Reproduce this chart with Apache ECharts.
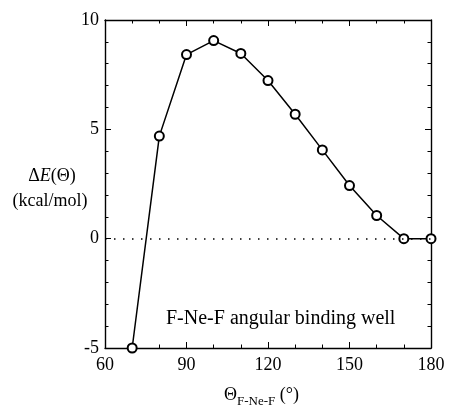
<!DOCTYPE html>
<html><head><meta charset="utf-8">
<script src="https://cdn.jsdelivr.net/npm/echarts@6/dist/echarts.min.js"></script>
<style>html,body{margin:0;padding:0;background:#fff}#c{width:449px;height:407px}</style>
</head><body><div id="c"></div>
<script>
var angles = [70, 80, 90, 100, 110, 120, 130, 140, 150, 160, 170, 180];
var energies = [-5.0, 4.69, 8.42, 9.06, 8.47, 7.23, 5.69, 4.06, 2.43, 1.06, 0.0, 0.0];
var xTicks = [60, 90, 120, 150, 180];
var yTicks = [-5, 0, 5, 10];
var annotation = 'F-Ne-F angular binding well';

var FONT = '"Liberation Serif","Times New Roman",serif';
var chart = echarts.init(document.getElementById('c'));
var data = angles.map(function (a, i) { return [a, energies[i]]; });
function axisBase(show) {
  return {
    axisLine: { show: true, onZero: false, lineStyle: { color: '#000', width: 1.4 } },
    axisTick: { show: true, inside: true, length: 6, lineStyle: { color: '#000', width: 1 } },
    minorTick: { show: true, length: 3.5, lineStyle: { color: '#000', width: 1 } },
    splitLine: { show: false },
    axisLabel: { show: show, color: '#000', fontFamily: FONT, fontSize: 18 }
  };
}
var xb = Object.assign({ type: 'value', min: xTicks[0], max: xTicks[xTicks.length - 1], interval: 30 }, axisBase(true));
xb.minorTick.splitNumber = 3; xb.axisLabel.margin = 8;
var xt = Object.assign({ type: 'value', position: 'top', min: xTicks[0], max: xTicks[xTicks.length - 1], interval: 30 }, axisBase(false));
xt.minorTick.splitNumber = 3;
var yl = Object.assign({ type: 'value', min: yTicks[0], max: yTicks[yTicks.length - 1], interval: 5 }, axisBase(true));
yl.minorTick.splitNumber = 5; yl.axisLabel.margin = 6;
var yr = Object.assign({ type: 'value', position: 'right', min: yTicks[0], max: yTicks[yTicks.length - 1], interval: 5 }, axisBase(false));
yr.minorTick.splitNumber = 5;

chart.setOption({
  animation: false,
  grid: { left: 105, right: 18, top: 20, bottom: 59 },
  xAxis: [xb, xt],
  yAxis: [yl, yr],
  series: [{
    type: 'line',
    data: data,
    symbol: 'emptyCircle',
    symbolSize: 9,
    lineStyle: { color: '#000', width: 1.5 },
    itemStyle: { color: '#000', borderColor: '#000', borderWidth: 1.6 },
    markLine: {
      silent: true, symbol: 'none', label: { show: false },
      lineStyle: { color: '#000', width: 1.5, type: [1.5, 7.5] },
      data: [{ yAxis: 0 }]
    },
    z: 3
  }],
  graphic: [
    { type: 'text', left: 166, top: 309, style: { text: annotation, font: '20px ' + FONT, fill: '#000' } },
    { type: 'text', x: 52, y: 176, style: { text: '{n|Δ}{i|E}{n|(Θ)}', align: 'center', verticalAlign: 'middle', fill: '#000',
        rich: { n: { font: '18px ' + FONT }, i: { font: 'italic 18px ' + FONT } } } },
    { type: 'text', x: 50, y: 201, style: { text: '(kcal/mol)', align: 'center', verticalAlign: 'middle', font: '18px ' + FONT, fill: '#000' } },
    { type: 'text', x: 224, y: 386, style: { text: '{n|Θ}{s|F-Ne-F}{n| (°)}', fill: '#000',
        rich: { n: { font: '18px ' + FONT, verticalAlign: 'top' }, s: { font: '13px ' + FONT, padding: [9, 0, 0, 0], verticalAlign: 'top' } } } }
  ]
});
</script></body></html>
